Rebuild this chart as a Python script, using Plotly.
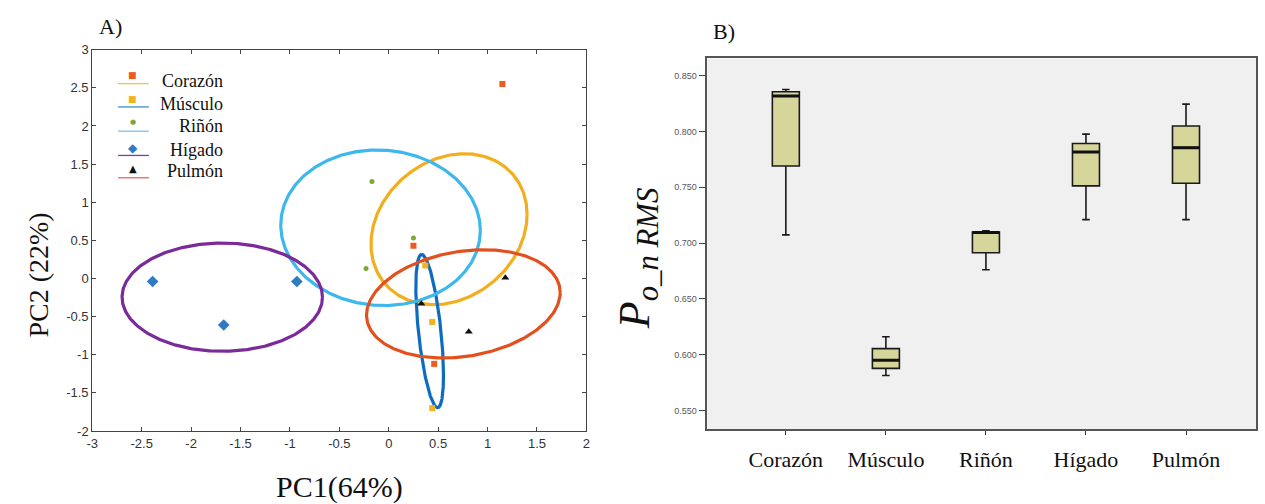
import numpy as np
import plotly.graph_objects as go

W, H = 1265, 504

# ---------------- Panel A data (PCA scores) ----------------
groups = ["Corazón", "Músculo", "Riñón", "Hígado", "Pulmón"]
corazon_x = [1.15, 0.25, 0.46]
corazon_y = [2.55, 0.43, -1.12]
musculo_x = [0.37, 0.44, 0.44]
musculo_y = [0.17, -0.57, -1.70]
rinon_x = [-0.17, 0.25, -0.23]
rinon_y = [1.27, 0.53, 0.13]
higado_x = [-2.39, -1.67, -0.93]
higado_y = [-0.04, -0.61, -0.04]
pulmon_x = [1.18, 0.33, 0.81]
pulmon_y = [0.01, -0.33, -0.70]

# confidence ellipses: centre, half extents, phase (tilt) in degrees
ell_cx = [0.61, 0.414, -0.083, -1.685, 0.755]
ell_cy = [0.646, -0.69, 0.665, -0.245, -0.333]
ell_hx = [0.79, 0.14, 1.01, 1.014, 0.98]
ell_hy = [0.99, 1.005, 1.02, 0.71, 0.71]
ell_delta = [78.6, 125.0, 92.0, 90.0, 78.0]

x_ticks_a = [-3, -2.5, -2, -1.5, -1, -0.5, 0, 0.5, 1, 1.5, 2]
y_ticks_a = [-2, -1.5, -1, -0.5, 0, 0.5, 1, 1.5, 2, 2.5, 3]

# ---------------- Panel B data (box plot statistics) ----------------
organs = ["Corazón", "Músculo", "Riñón", "Hígado", "Pulmón"]
lower_fence = [0.7074, 0.5815, 0.6761, 0.7210, 0.7210]
q1_vals = [0.7690, 0.5878, 0.6914, 0.7513, 0.7536]
median_vals = [0.8317, 0.5951, 0.7094, 0.7817, 0.7855]
q3_vals = [0.8356, 0.6055, 0.7100, 0.7892, 0.8049]
upper_fence = [0.8376, 0.6162, 0.7111, 0.7976, 0.8245]
y_ticks_b = [0.550, 0.600, 0.650, 0.700, 0.750, 0.800, 0.850]

marker_colors = ["#F05A1E", "#F5B21E", "#7AAA32", "#2E7BC4", "#111111"]
marker_symbols = ["square", "square", "circle", "diamond", "triangle-up"]
marker_sizes = [6, 6, 5, 9, 7]
ellipse_colors = ["#F2AE1C", "#0E6CC0", "#3DB7EC", "#7B2A9A", "#E2501E"]
legend_line_colors = ["#E8C84A", "#3A8FD0", "#7CC0F0", "#7F3F9F", "#F06060"]

px_ = lambda p: p / W
py_ = lambda p: 1 - p / H

fig = go.Figure()

# ellipses
t = np.linspace(0, 2 * np.pi, 400)
for i, g in enumerate(groups):
    d = np.deg2rad(ell_delta[i])
    ex = ell_cx[i] + ell_hx[i] * np.cos(t)
    ey = ell_cy[i] + ell_hy[i] * np.cos(t - d)
    fig.add_trace(go.Scatter(x=ex, y=ey, mode="lines",
                             line=dict(color=ellipse_colors[i], width=3.2),
                             showlegend=False, hoverinfo="skip",
                             xaxis="x", yaxis="y"))

xs = [corazon_x, musculo_x, rinon_x, higado_x, pulmon_x]
ys = [corazon_y, musculo_y, rinon_y, higado_y, pulmon_y]
for i, g in enumerate(groups):
    fig.add_trace(go.Scatter(x=xs[i], y=ys[i], mode="markers", name=g,
                             marker=dict(color=marker_colors[i], symbol=marker_symbols[i],
                                         size=marker_sizes[i], line=dict(width=0)),
                             showlegend=False, xaxis="x", yaxis="y"))

# box plot
fig.add_trace(go.Box(x=organs, q1=q1_vals, median=median_vals, q3=q3_vals,
                     lowerfence=lower_fence, upperfence=upper_fence,
                     width=0.27, whiskerwidth=0.28, boxpoints=False,
                     fillcolor="#D6D69A", line=dict(color="#1a1a1a", width=1.6),
                     showlegend=False, xaxis="x2", yaxis="y2"))
# thicker median lines (degenerate boxes at the median)
fig.add_trace(go.Box(x=organs, q1=median_vals, median=median_vals, q3=median_vals,
                     lowerfence=median_vals, upperfence=median_vals,
                     width=0.27, whiskerwidth=0, boxpoints=False,
                     fillcolor="rgba(0,0,0,0)", line=dict(color="#111", width=3),
                     showlegend=False, hoverinfo="skip", xaxis="x2", yaxis="y2"))

serif = "Liberation Serif, Times New Roman, serif"
sans = "Liberation Sans, Arial, sans-serif"

fig.update_layout(
    width=W, height=H,
    margin=dict(l=0, r=0, t=0, b=0),
    paper_bgcolor="white",
    plot_bgcolor="white",
    showlegend=False,
    boxmode="overlay",
    xaxis=dict(domain=[px_(87), px_(585)], range=[-3, 2], tickvals=x_ticks_a,
               ticktext=[f"{v:g}" for v in x_ticks_a],
               ticks="inside", ticklen=4, tickcolor="#444", mirror="ticks",
               showline=True, linecolor="#444", linewidth=1.2, showgrid=False,
               zeroline=False, tickfont=dict(family=sans, size=13, color="#333"),
               title=dict(text="PC1(64%)", font=dict(family=serif, size=30, color="#111"),
                          standoff=28),
               anchor="y"),
    yaxis=dict(domain=[py_(437), py_(44)], range=[-2, 3], tickvals=y_ticks_a,
               ticktext=[f"{v:g}" for v in y_ticks_a],
               ticks="inside", ticklen=4, tickcolor="#444", mirror="ticks",
               showline=True, linecolor="#444", linewidth=1.2, showgrid=False,
               zeroline=False, tickfont=dict(family=sans, size=13, color="#333"),
               anchor="x"),
    xaxis2=dict(domain=[px_(707), px_(1260)], range=[-0.784, 4.70], type="category",
                ticks="outside", ticklen=4, tickcolor="#333",
                showline=True, linecolor="#555", linewidth=1.6, mirror=True,
                showgrid=False, zeroline=False, ticklabelstandoff=6,
                tickfont=dict(family=serif, size=22, color="#111"),
                anchor="y2"),
    yaxis2=dict(domain=[py_(435), py_(53)], range=[0.5335, 0.8654], tickvals=y_ticks_b,
                tickformat=".3f", ticks="outside", ticklen=7, tickcolor="#444",
                showline=True, linecolor="#555", linewidth=1.6, mirror=True,
                showgrid=False, zeroline=False,
                tickfont=dict(family=sans, size=9, color="#555"),
                anchor="x2"),
)

# panel B plot background
fig.add_shape(type="rect", xref="x2 domain", yref="y2 domain", x0=0, x1=1, y0=0, y1=1,
              fillcolor="#F0F0F0", line=dict(width=0), layer="below")

# axis titles placed as rotated annotations
fig.add_annotation(text="PC2 (22%)", x=px_(33), y=py_(276), xref="paper", yref="paper",
                   textangle=-90, showarrow=False, xanchor="center", yanchor="middle",
                   font=dict(family=serif, size=28, color="#111"))
fig.add_annotation(text="<i>P</i><sub><i>o_n RMS</i></sub>", x=px_(636), y=py_(259),
                   xref="paper", yref="paper", textangle=-90, showarrow=False,
                   xanchor="center", yanchor="middle",
                   font=dict(family=serif, size=44, color="#111"))

# panel labels
fig.add_annotation(text="A)", x=px_(92), y=py_(20), xref="paper", yref="paper",
                   xanchor="left", yanchor="middle", showarrow=False,
                   font=dict(family=serif, size=22, color="#111"))
fig.add_annotation(text="B)", x=px_(711), y=py_(25), xref="paper", yref="paper",
                   xanchor="left", yanchor="middle", showarrow=False,
                   font=dict(family=serif, size=22, color="#111"))

# manual legend (panel A)
leg_marker_y = [70, 95, 119, 145, 166]
leg_line_y = [79, 103, 128, 153, 176]
leg_text_y = [76, 100, 123, 147, 169]
glyphs = ["■", "■", "●", "◆", "▲"]
glyph_sizes = [9, 9, 7, 12, 10]
for i, g in enumerate(groups):
    fig.add_shape(type="line", xref="paper", yref="paper",
                  x0=px_(113), x1=px_(144), y0=py_(leg_line_y[i]), y1=py_(leg_line_y[i]),
                  line=dict(color=legend_line_colors[i], width=1.3))
    fig.add_annotation(text=glyphs[i], x=px_(128), y=py_(leg_marker_y[i]),
                       xref="paper", yref="paper", showarrow=False,
                       xanchor="center", yanchor="middle",
                       font=dict(family="DejaVu Sans", size=glyph_sizes[i], color=marker_colors[i]))
    fig.add_annotation(text=g, x=px_(221), y=py_(leg_text_y[i]),
                       xref="paper", yref="paper", showarrow=False,
                       xanchor="right", yanchor="middle",
                       font=dict(family=serif, size=18, color="#111"))

fig.write_html("out.html")
